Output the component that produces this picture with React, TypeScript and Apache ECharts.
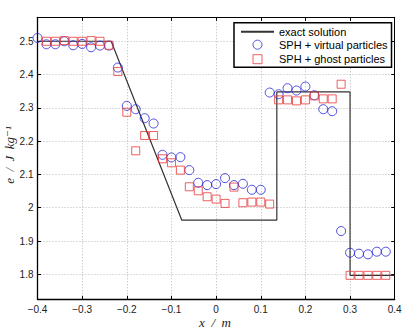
import React, { useEffect, useRef } from "react";
import * as echarts from "echarts";

// particle positions (m)
const xVirtual = [
  -0.4, -0.38, -0.36, -0.34, -0.32, -0.3, -0.28, -0.26, -0.24, -0.22,
  -0.2, -0.18, -0.16, -0.14, -0.12, -0.1, -0.08, -0.06, -0.04, -0.02,
  0.0, 0.02, 0.04, 0.06, 0.08, 0.1, 0.12, 0.14, 0.16, 0.18,
  0.2, 0.22, 0.24, 0.26, 0.28, 0.3, 0.32, 0.34, 0.36, 0.38,
];
// internal energy, SPH + virtual particles (J/kg)
const eVirtual = [
  2.51, 2.491, 2.491, 2.5, 2.488, 2.492, 2.482, 2.487, 2.487, 2.421,
  2.306, 2.296, 2.269, 2.253, 2.159, 2.151, 2.152, 2.113, 2.075, 2.068,
  2.071, 2.089, 2.068, 2.072, 2.054, 2.054, 2.346, 2.341, 2.359, 2.352,
  2.364, 2.338, 2.296, 2.29, 1.93, 1.865, 1.862, 1.86, 1.868, 1.868,
];

const xGhost = [
  -0.38, -0.36, -0.34, -0.32, -0.3, -0.28, -0.26, -0.24, -0.22,
  -0.2, -0.18, -0.16, -0.14, -0.12, -0.1, -0.08, -0.06, -0.04, -0.02,
  0.0, 0.02, 0.04, 0.06, 0.08, 0.1, 0.12, 0.14, 0.16, 0.18,
  0.2, 0.22, 0.24, 0.26, 0.28, 0.3, 0.32, 0.34, 0.36, 0.38,
];
// internal energy, SPH + ghost particles (J/kg)
const eGhost = [
  2.5, 2.5, 2.502, 2.5, 2.5, 2.502, 2.5, 2.488, 2.409,
  2.287, 2.171, 2.217, 2.217, 2.147, 2.135, 2.113, 2.063, 2.051, 2.033,
  2.026, 2.013, 2.062, 2.015, 2.017, 2.017, 2.011, 2.324, 2.324, 2.321,
  2.324, 2.336, 2.327, 2.327, 2.371, 1.797, 1.797, 1.797, 1.797, 1.797,
];

// exact Riemann solution breakpoints
const xExact = [-0.4, -0.235, -0.077, 0.136, 0.136, 0.3, 0.3, 0.4];
const eExact = [2.5, 2.5, 1.963, 1.963, 2.348, 2.348, 1.797, 1.797];

const xTicks = [-0.4, -0.3, -0.2, -0.1, 0, 0.1, 0.2, 0.3, 0.4];
const yTicks = [1.8, 1.9, 2.0, 2.1, 2.2, 2.3, 2.4, 2.5];

const legendNames = [
  "exact solution",
  "SPH + virtual particles",
  "SPH + ghost particles",
];

const BLUE = "#2323d8";
const RED = "#e8393b";
const LINE = "#333333";
const SANS = "'Liberation Sans', Arial, sans-serif";
const SERIF = "'Liberation Serif', 'DejaVu Serif', serif";

const fmt = (v: number) => {
  const s = String(parseFloat(v.toFixed(1)));
  return s.replace("-", "\u2212");
};

const onTick = (v: number, ticks: number[]) =>
  ticks.some((t) => Math.abs(t - v) < 1e-6);

export default function App() {
  const ref = useRef<HTMLDivElement>(null);

  useEffect(() => {
    if (!ref.current) return;
    const chart = echarts.init(ref.current, null, { renderer: "svg" });

    const xMin = -0.4;
    const xMax = 0.4;
    const yMin = 1.725;
    const yMax = 2.572;

    const baseX = {
      type: "value" as const,
      min: xMin,
      max: xMax,
      interval: 0.1,
    };
    const baseY = {
      type: "value" as const,
      min: yMin,
      max: yMax,
      splitNumber: 8,
      minInterval: 0.1,
      maxInterval: 0.1,
    };
    const tick = { show: true, inside: true, length: 3.5, lineStyle: { color: "#000" } };

    chart.setOption({
      animation: false,
      backgroundColor: "#ffffff",
      grid: { left: 37.5, right: 10.3, top: 17.3, bottom: 28.7, containLabel: false },
      xAxis: [
        {
          ...baseX,
          position: "bottom",
          axisLine: { show: true, onZero: false, lineStyle: { color: "#000", width: 1.3 } },
          axisTick: tick,
          axisLabel: {
            fontSize: 10,
            fontFamily: SANS,
            color: "#222",
            margin: 5,
            formatter: (v: number) => (onTick(v, xTicks) ? fmt(v) : ""),
          },
          splitLine: { show: true, lineStyle: { color: "#b8b8b8", type: [1, 2], width: 1 } },
        },
        {
          ...baseX,
          position: "top",
          axisLine: { show: true, onZero: false, lineStyle: { color: "#000", width: 1 } },
          axisTick: tick,
          axisLabel: { show: false },
          splitLine: { show: false },
        },
      ],
      yAxis: [
        {
          ...baseY,
          position: "left",
          axisLine: { show: true, onZero: false, lineStyle: { color: "#000", width: 1.3 } },
          axisTick: tick,
          axisLabel: {
            fontSize: 10,
            fontFamily: SANS,
            color: "#222",
            margin: 4,
            formatter: (v: number) => (onTick(v, yTicks) ? fmt(v) : ""),
          },
          splitLine: { show: true, lineStyle: { color: "#b8b8b8", type: [1, 2], width: 1 } },
        },
        {
          ...baseY,
          position: "right",
          axisLine: { show: true, onZero: false, lineStyle: { color: "#000", width: 1 } },
          axisTick: tick,
          axisLabel: { show: false },
          splitLine: { show: false },
        },
      ],
      legend: {
        left: 234,
        top: 22.7,
        orient: "vertical",
        itemWidth: 33,
        itemHeight: 9,
        itemGap: 0.5,
        padding: [3.5, 4, 1, 6],
        borderColor: "#000",
        borderWidth: 1.5,
        backgroundColor: "#fff",
        selectedMode: false,
        textStyle: { fontSize: 11, fontFamily: SANS, color: "#000" },
        data: [
          { name: legendNames[0], itemStyle: { opacity: 0 } },
          {
            name: legendNames[1],
            icon: "circle",
            itemStyle: { color: "none", borderColor: BLUE, borderWidth: 1 },
          },
          {
            name: legendNames[2],
            icon: "path://M0,0L10,0L10,10L0,10Z",
            itemStyle: { color: "none", borderColor: RED, borderWidth: 1 },
          },
        ],
      },
      series: [
        {
          name: legendNames[0],
          type: "line",
          data: xExact.map((x, i) => [x, eExact[i]]),
          symbol: "none",
          lineStyle: { color: LINE, width: 1.2 },
          itemStyle: { color: LINE },
          silent: true,
          z: 2,
        },
        {
          name: legendNames[1],
          type: "scatter",
          data: xVirtual.map((x, i) => [x, eVirtual[i]]),
          symbol: "circle",
          symbolSize: 9,
          clip: false,
          itemStyle: { color: "none", borderColor: BLUE, borderWidth: 1 },
          silent: true,
          z: 3,
        },
        {
          name: legendNames[2],
          type: "scatter",
          data: xGhost.map((x, i) => [x, eGhost[i]]),
          symbol: "rect",
          symbolSize: 8,
          clip: false,
          itemStyle: { color: "none", borderColor: RED, borderWidth: 1 },
          silent: true,
          z: 4,
        },
      ],
      graphic: [
        {
          type: "text",
          x: 9,
          y: 155,
          rotation: Math.PI / 2,
          style: {
            text: "e  /  J  kg\u207B\u00B9",
            font: `italic 13px ${SERIF}`,
            fill: "#222",
            align: "center",
            verticalAlign: "middle",
          },
        },
        {
          type: "text",
          x: 215,
          y: 322,
          style: {
            text: "x  /  m",
            font: `italic 13px ${SERIF}`,
            fill: "#222",
            align: "center",
            verticalAlign: "middle",
          },
        },
      ],
    });

    return () => chart.dispose();
  }, []);

  return (
    <div
      ref={ref}
      style={{ position: "fixed", left: 0, top: 0, width: 405, height: 328 }}
    />
  );
}
